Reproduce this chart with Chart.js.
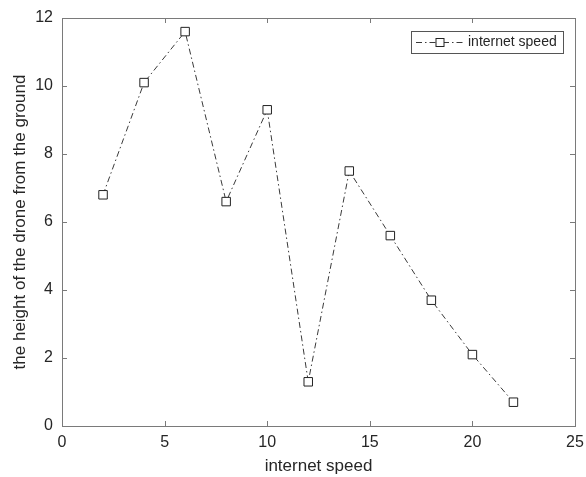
<!DOCTYPE html>
<html><head><meta charset="utf-8">
<script src="https://cdn.jsdelivr.net/npm/chart.js@4"></script>
<style>html,body{margin:0;padding:0;background:#fff}#wrap{width:586px;height:477px}</style>
</head><body><div id="wrap"><canvas id="c" width="586" height="477"></canvas></div>
<script>
const seriesName = 'internet speed';
const xValues = [2, 4, 6, 8, 10, 12, 14, 16, 18, 20, 22];
const yValues = [6.8, 10.1, 11.6, 6.6, 9.3, 1.3, 7.5, 5.6, 3.7, 2.1, 0.7];
const xTicks = [0, 5, 10, 15, 20, 25];
const yTicks = [0, 2, 4, 6, 8, 10, 12];
const xTitle = 'internet speed';
const yTitle = 'the height of the drone from the ground';

const FONT = 'Arial, "Liberation Sans", sans-serif';
const AXIS = '#7a7a7a';
const TEXT = '#262626';
const LINE = '#3a3a3a';
const DASH = [6, 3, 1.5, 3];

const boxPlugin = {
  id: 'box',
  afterDraw(chart) {
    const {ctx, chartArea: a, scales: {x, y}} = chart;
    ctx.save();
    ctx.strokeStyle = AXIS; ctx.lineWidth = 1; ctx.setLineDash([]);
    ctx.strokeRect(Math.round(a.left) + 0.5, Math.round(a.top) + 0.5, Math.round(a.right - a.left), Math.round(a.bottom - a.top));
    const tl = 5;
    ctx.beginPath();
    xTicks.forEach(v => {
      const px = Math.round(x.getPixelForValue(v)) + 0.5;
      ctx.moveTo(px, a.bottom); ctx.lineTo(px, a.bottom - tl);
      ctx.moveTo(px, a.top); ctx.lineTo(px, a.top + tl);
    });
    yTicks.forEach(v => {
      const py = Math.round(y.getPixelForValue(v)) + 0.5;
      ctx.moveTo(a.left, py); ctx.lineTo(a.left + tl, py);
      ctx.moveTo(a.right, py); ctx.lineTo(a.right - tl, py);
    });
    ctx.stroke();
    // legend
    const lx = 411, ly = 31, lw = 152, lh = 22;
    ctx.fillStyle = '#fff';
    ctx.fillRect(lx, ly, lw, lh);
    ctx.strokeStyle = '#555';
    ctx.strokeRect(lx + 0.5, ly + 0.5, lw, lh);
    const cy = ly + lh / 2 + 0.5;
    ctx.strokeStyle = LINE; ctx.setLineDash(DASH);
    ctx.beginPath(); ctx.moveTo(416, cy); ctx.lineTo(464, cy); ctx.stroke();
    ctx.setLineDash([]);
    ctx.fillStyle = '#fff';
    ctx.fillRect(436, cy - 4, 8, 8);
    ctx.strokeStyle = '#222';
    ctx.strokeRect(436, cy - 4, 8, 8);
    ctx.fillStyle = TEXT;
    ctx.font = '14px ' + FONT;
    ctx.textBaseline = 'middle'; ctx.textAlign = 'left';
    ctx.fillText(seriesName, 468, cy);
    ctx.restore();
  }
};

new Chart(document.getElementById('c'), {
  type: 'scatter',
  data: {
    datasets: [{
      label: seriesName,
      data: xValues.map((v, i) => ({x: v, y: yValues[i]})),
      showLine: true,
      borderColor: LINE,
      borderWidth: 1,
      borderDash: DASH,
      pointStyle: 'rect',
      pointRadius: 6,
      pointBackgroundColor: '#fff',
      pointBorderColor: '#222',
      pointBorderWidth: 1,
      tension: 0
    }]
  },
  options: {
    responsive: false,
    animation: false,
    devicePixelRatio: 1,
    layout: {padding: {top: 18, right: 11, left: 0, bottom: 0}},
    plugins: {legend: {display: false}, tooltip: {enabled: false}},
    scales: {
      x: {
        type: 'linear', min: 0, max: 25,
        afterBuildTicks: s => { s.ticks = xTicks.map(v => ({value: v})); },
        afterFit: s => { s.height = 51; s.paddingLeft = 0; s.paddingRight = 0; },
        grid: {display: true, drawOnChartArea: false, drawTicks: false, color: 'rgba(0,0,0,0)'},
        border: {display: false},
        ticks: {color: TEXT, font: {family: FONT, size: 16}, padding: 7, maxRotation: 0},
        title: {display: true, text: xTitle, color: TEXT, font: {family: FONT, size: 17}, padding: {top: 0, bottom: 0}}
      },
      y: {
        type: 'linear', min: 0, max: 12,
        afterBuildTicks: s => { s.ticks = yTicks.map(v => ({value: v})); },
        afterFit: s => { s.width = 62; s.paddingTop = 0; s.paddingBottom = 0; },
        grid: {display: true, drawOnChartArea: false, drawTicks: false, color: 'rgba(0,0,0,0)'},
        border: {display: false},
        ticks: {color: TEXT, font: {family: FONT, size: 16}, padding: 9},
        title: {display: true, text: yTitle, color: TEXT, font: {family: FONT, size: 17}, padding: {top: 10, bottom: 0}}
      }
    }
  },
  plugins: [boxPlugin]
});
</script></body></html>
